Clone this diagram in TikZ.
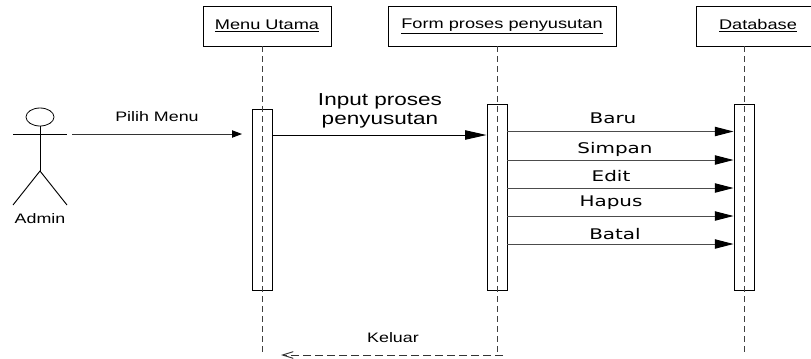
\documentclass[tikz,border=0pt]{standalone}
\usepackage{fontspec}
\setmainfont[FakeStretch=1.3]{Liberation Sans}
\newfontfamily\msgfont[FakeStretch=1.36]{DejaVu Sans}
\usetikzlibrary{arrows.meta, shapes.geometric}
\tikzset{
    objbox/.style={draw, line width=0.7pt, minimum height=30pt, font=\fontsize{10.5}{12}\selectfont, inner sep=0pt},
    actbar/.style={draw, line width=0.7pt, minimum width=15pt, inner sep=0pt},
    lifeline/.style={line width=0.7pt, black!75, dash pattern=on 4.5pt off 3pt},
    syncmsg/.style={line width=0.7pt, black!70, -{Triangle[length=14pt, width=7pt, black]}},
    msglabel/.style={font=\msgfont\fontsize{11}{13}\selectfont, inner sep=0pt},
    smalllabel/.style={font=\fontsize{10.3}{12}\selectfont, inner sep=0pt},
}

\begin{document}
\begin{tikzpicture}[x=0.75pt, y=-0.75pt]
    \useasboundingbox (0,0) rectangle (811,358);

    \node[objbox, minimum width=96pt] (menu) at (267,26) {\underline{Menu Utama}};
    \node[objbox, minimum width=171pt] (form) at (502,26) {\underline{Form proses penyusutan}};
    \node[objbox, minimum width=92pt] (db) at (758,26) {\underline{Database}};

    \node[actbar, minimum height=135.75pt] (menubar) at (262,199.5) {};
    \node[actbar, minimum height=139.5pt] (formbar) at (497,197) {};
    \node[actbar, minimum height=139.5pt] (dbbar) at (744,197) {};

    \coordinate (menuend) at (262,356);
    \coordinate (formend) at (497,356);
    \coordinate (dbend) at (744,356);
    \draw[lifeline] (menuend |- menu.south) -- (menuend);
    \draw[lifeline] (formend |- form.south) -- (formend);
    \draw[lifeline] (dbend |- db.south) -- (dbend);

    % actor
    \node[draw, ellipse, line width=0.6pt, minimum width=21pt, minimum height=13.5pt, inner sep=0pt] (head) at (40,117) {};
    \coordinate (hip) at (40,171);
    \coordinate (armleft) at (13,134);
    \coordinate (armright) at (67,134);
    \coordinate (footleft) at (13,205);
    \coordinate (footright) at (67,205);
    \draw[line width=0.7pt] (head.south) -- (hip);
    \draw[line width=0.7pt] (armleft) -- (armright);
    \draw[line width=0.7pt] (footleft) -- (hip) -- (footright);
    \node[smalllabel] (admin) at (40,219) {Admin};

    % messages
    \coordinate (pilihstart) at (72,134);
    \coordinate (pilihend) at (242,134);
    \draw[line width=0.7pt, black!80, -{Triangle[length=7.5pt, width=5.5pt, black]}] (pilihstart) -- (pilihend);
    \node[smalllabel] (pilih) at (157,117) {Pilih Menu};

    \draw[line width=0.7pt, -{Triangle[length=16pt, width=7pt]}] (menubar.east |- 0,135) -- (formbar.west |- 0,135);
    \node[align=center, font=\fontsize{13}{14.25}\selectfont, inner sep=0pt] (input) at (380,111) {Input proses\\penyusutan};

    \foreach \name/\y/\tx/\ty/\txt in {baru/131.5/613/118/Baru, simpan/160/615/149/Simpan, edit/188/611/176/Edit, hapus/216/611/203/Hapus, batal/244/615/234/Batal} {
        \draw[syncmsg] (formbar.east |- 0,\y) -- (dbbar.west |- 0,\y);
        \node[msglabel] (\name) at (\tx,\ty) {\txt};
    }

    \coordinate (keluarstart) at (503,355);
    \coordinate (keluarend) at (281,355);
    \draw[line width=0.7pt, black!80, dash pattern=on 6pt off 3pt, -{Straight Barb[length=8pt, width=5pt]}] (keluarstart) -- (keluarend);
    \node[smalllabel] (keluar) at (393,338) {Keluar};
\end{tikzpicture}
\end{document}
